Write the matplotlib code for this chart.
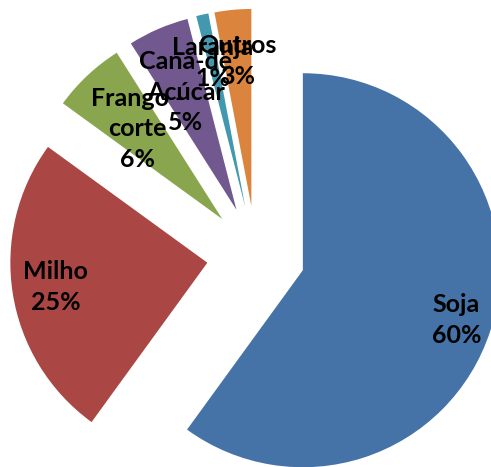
import matplotlib
matplotlib.use("Agg")
import numpy as np
import matplotlib.pyplot as plt

# culturas e participacao (%)
categorias = ["Soja", "Milho", "Frango -\ncorte", "Cana-de\nAcúcar", "Laranja", "Outros"]
valores = [60, 25, 6, 5, 1, 3]
cores = ["#4572A7", "#AA4643", "#89A54E", "#71588F", "#4198AF", "#DB843D"]

# distancia do rotulo a partir do vertice de cada fatia (fracao do raio)
dist_rotulo = [0.82, 0.78, 0.63, 0.65, 0.75, 0.74]

fig = plt.figure(figsize=(4.91, 4.67), dpi=100)
ax = fig.add_axes([0, 0, 1, 1])

wedges, _ = ax.pie(valores, startangle=90, counterclock=False, colors=cores,
                   explode=[0.25] * len(valores), radius=1.0,
                   wedgeprops=dict(linewidth=0))

for w, cat, v, d in zip(wedges, categorias, valores, dist_rotulo):
    ang = np.deg2rad((w.theta1 + w.theta2) / 2)
    cx, cy = w.center
    x = cx + d * w.r * np.cos(ang)
    y = cy + d * w.r * np.sin(ang)
    ax.text(x, y, f"{cat}\n{v}%", ha="center", va="center",
            fontsize=18, fontweight="bold", family="Lato",
            linespacing=1.4, color="black")

# escala: 197 px por unidade de raio, centro em (256, 255) px
ax.set_xlim(-256 / 197, (491 - 256) / 197)
ax.set_ylim(-(467 - 255) / 197, 255 / 197)
ax.set_aspect("auto")
ax.axis("off")

fig.savefig("out.png", dpi=100)
